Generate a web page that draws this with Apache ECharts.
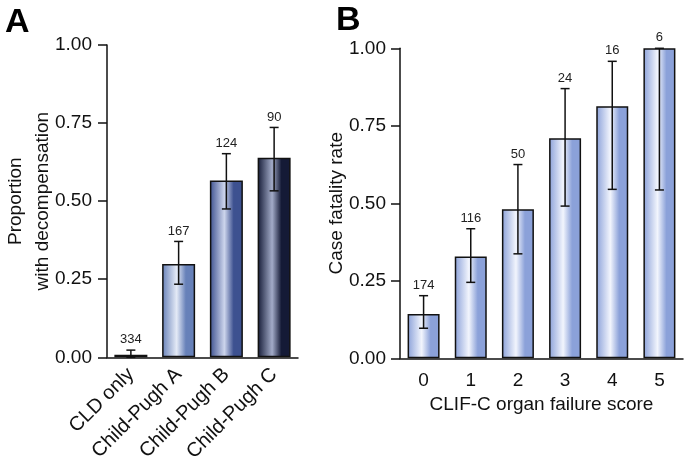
<!DOCTYPE html>
<html>
<head>
<meta charset="utf-8">
<script src="https://cdn.jsdelivr.net/npm/echarts@6/dist/echarts.min.js"></script>
<style>html,body{margin:0;padding:0;background:#fff}#c{width:693px;height:468px}</style>
</head>
<body>
<div id="c"></div>
<script>
// Panel A data
const catsA = ['CLD only', 'Child-Pugh A', 'Child-Pugh B', 'Child-Pugh C'];
const valsA = [0.008, 0.299, 0.566, 0.639];
const lowA = [0.0, 0.234, 0.475, 0.533];
const highA = [0.023, 0.371, 0.652, 0.736];
const nA = ['334', '167', '124', '90'];
// Panel B data
const catsB = ['0', '1', '2', '3', '4', '5'];
const valsB = [0.143, 0.328, 0.481, 0.710, 0.813, 1.0];
const lowB = [0.097, 0.245, 0.337, 0.491, 0.545, 0.543];
const highB = [0.202, 0.418, 0.625, 0.870, 0.958, 1.0];
const nB = ['174', '116', '50', '24', '16', '6'];
const yTicks = [0, 0.25, 0.5, 0.75, 1.0];

// palettes (edge, highlight)
const palA = [['#7a8fc6', '#e6ecf8'], ['#6781b9', '#e4eaf6'], ['#3d5190', '#cdd5ec'], ['#141a36', '#a2abc8']];
const palB = ['#8ba1d9', '#f2f5fd'];

function grad(edge, hi) {
  return new echarts.graphic.LinearGradient(0, 0, 1, 0, [
    {offset: 0, color: edge},
    {offset: 0.44, color: hi},
    {offset: 0.72, color: edge},
    {offset: 1, color: edge}
  ]);
}

const FONT = '"Liberation Sans", Arial, sans-serif';
const chart = echarts.init(document.getElementById('c'), null, {renderer: 'canvas'});

function errSeries(xi, yi, low, high, labels) {
  return {
    type: 'custom', xAxisIndex: xi, yAxisIndex: yi, clip: false, z: 10,
    data: low.map((l, i) => [i, l, high[i], labels[i]]),
    encode: {x: 0, y: [1, 2]},
    renderItem: function (params, api) {
      const i = api.value(0);
      const lo = api.coord([i, api.value(1)]);
      const hi = api.coord([i, api.value(2)]);
      const x = lo[0], cap = 4.5;
      const st = {stroke: '#111', lineWidth: 1.5};
      return {
        type: 'group',
        children: [
          {type: 'line', shape: {x1: x, y1: lo[1], x2: x, y2: hi[1]}, style: st},
          {type: 'line', shape: {x1: x - cap, y1: hi[1], x2: x + cap, y2: hi[1]}, style: st},
          {type: 'line', shape: {x1: x - cap, y1: lo[1], x2: x + cap, y2: lo[1]}, style: st},
          {type: 'text', x: x, y: hi[1] - 4, style: {text: String(labels[i]), fill: '#222', font: '13px ' + FONT, align: 'center', verticalAlign: 'bottom'}}
        ]
      };
    }
  };
}

function yAxisBase(margin) {
  return {
    type: 'value', min: 0, max: 1, interval: 0.25,
    axisLine: {show: true, lineStyle: {color: '#111', width: 1.5}},
    axisTick: {show: true, length: 9, lineStyle: {color: '#111', width: 1.5}},
    splitLine: {show: false},
    axisLabel: {color: '#111', fontSize: 19, fontFamily: FONT, margin: margin, formatter: v => v.toFixed(2)},
    nameLocation: 'middle', nameRotate: 90, nameMoveOverlap: false,
    nameTextStyle: {color: '#111', fontSize: 19, fontFamily: FONT, lineHeight: 27}
  };
}

chart.setOption({
  animation: false,
  backgroundColor: '#fff',
  textStyle: {fontFamily: FONT},
  title: [
    {text: 'A', left: 0, top: 1, textStyle: {fontSize: 34, fontWeight: 'bold', color: '#000', fontFamily: FONT}},
    {text: 'B', left: 331, top: -1, textStyle: {fontSize: 34, fontWeight: 'bold', color: '#000', fontFamily: FONT}}
  ],
  grid: [
    {left: 107, right: 395, top: 45, bottom: 110.7},
    {left: 400, right: 10, top: 48.3, bottom: 109.7}
  ],
  xAxis: [
    {type: 'category', gridIndex: 0, data: catsA,
     axisLine: {lineStyle: {color: '#111', width: 1.5}}, axisTick: {show: false},
     axisLabel: {rotate: 45, color: '#111', fontSize: 20, fontFamily: FONT, margin: 14, interval: 0}},
    {type: 'category', gridIndex: 1, data: catsB,
     axisLine: {lineStyle: {color: '#111', width: 1.5}}, axisTick: {show: false},
     axisLabel: {color: '#111', fontSize: 19, fontFamily: FONT, margin: 13},
     name: 'CLIF-C organ failure score', nameLocation: 'middle', nameGap: 37,
     nameTextStyle: {color: '#111', fontSize: 19, fontFamily: FONT}}
  ],
  yAxis: [
    Object.assign(yAxisBase(15), {gridIndex: 0, name: 'Proportion\nwith decompensation', nameGap: 51}),
    Object.assign(yAxisBase(14), {gridIndex: 1, name: 'Case fatality rate', nameGap: 50})
  ],
  series: [
    {type: 'bar', xAxisIndex: 0, yAxisIndex: 0, barWidth: 33,
     data: valsA.map((v, i) => ({value: v, itemStyle: {color: grad(palA[i][0], palA[i][1])}})),
     itemStyle: {borderColor: '#111', borderWidth: 1.5}},
    {type: 'bar', xAxisIndex: 1, yAxisIndex: 1, barWidth: 32,
     data: valsB.map(v => ({value: v, itemStyle: {color: grad(palB[0], palB[1])}})),
     itemStyle: {borderColor: '#111', borderWidth: 1.5}},
    errSeries(0, 0, lowA, highA, nA),
    errSeries(1, 1, lowB, highB, nB)
  ]
});
</script>
</body>
</html>
